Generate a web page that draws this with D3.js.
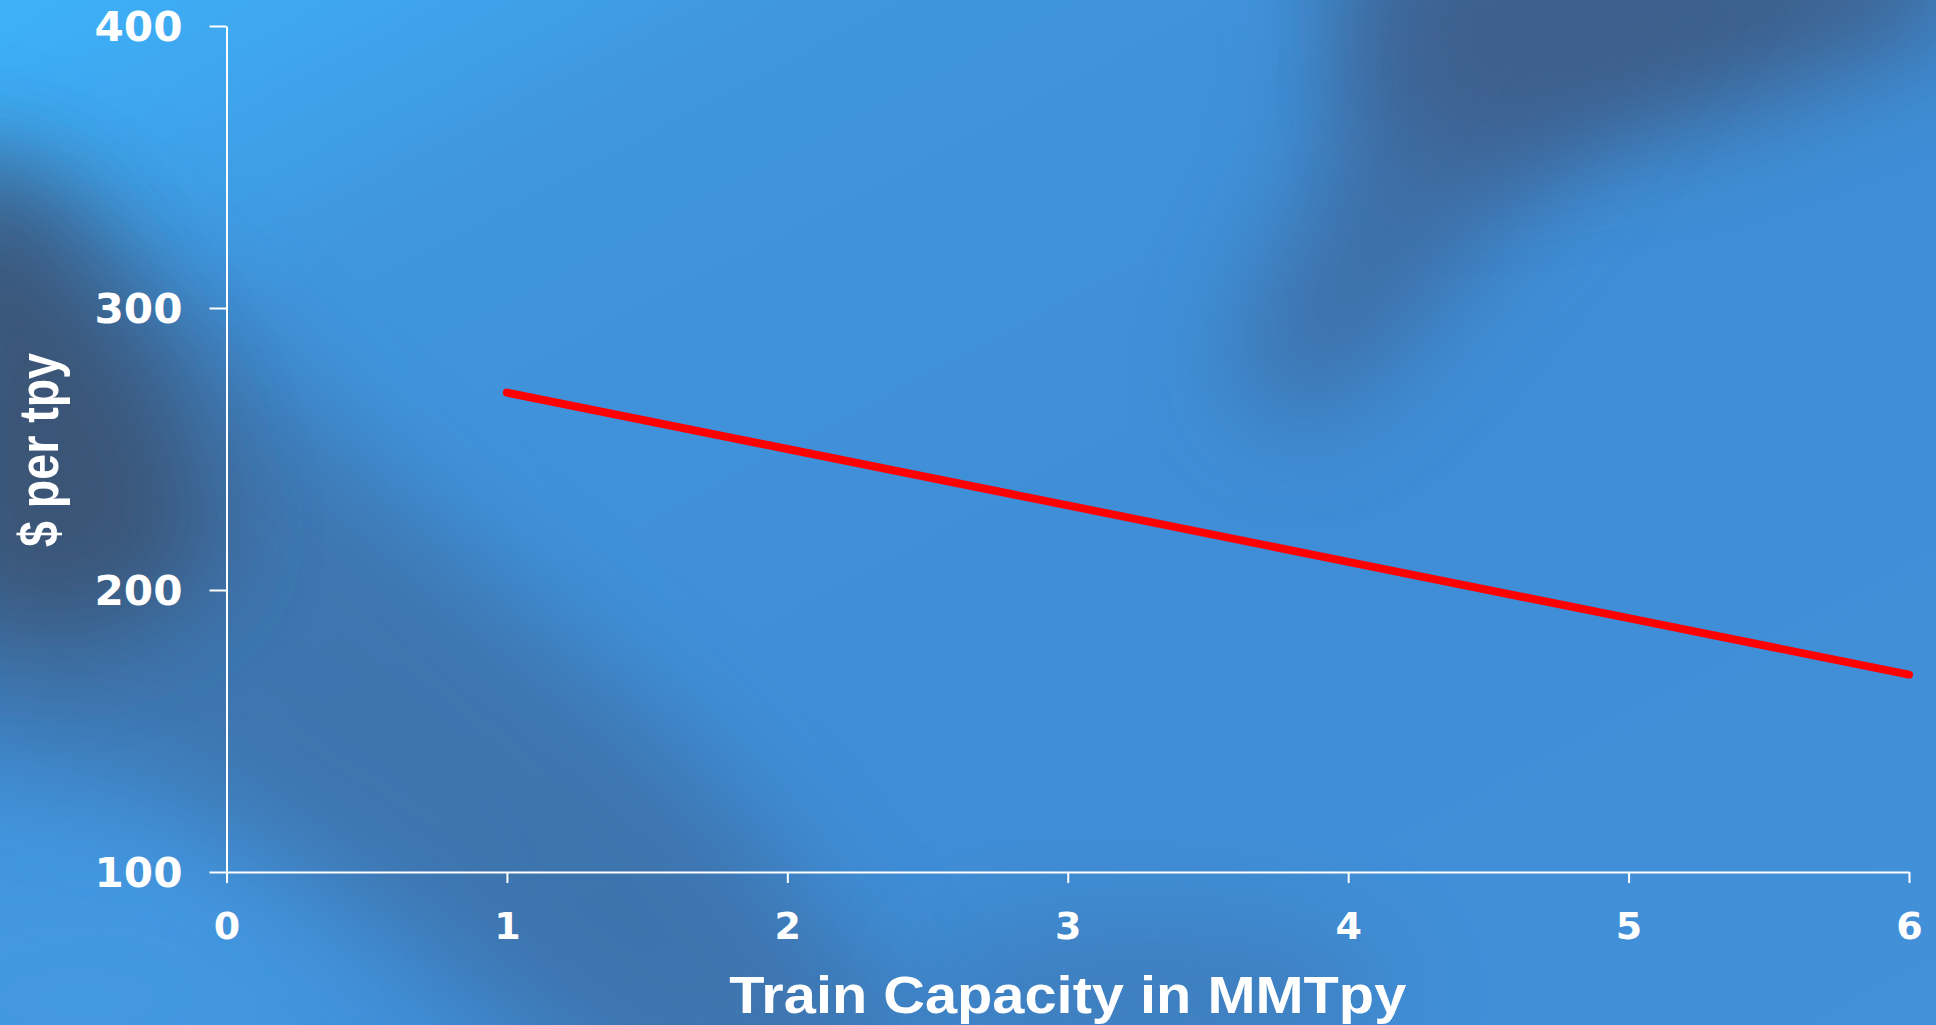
<!DOCTYPE html>
<html>
<head>
<meta charset="utf-8">
<script src="https://cdn.jsdelivr.net/npm/d3@7"></script>
<style>
  html, body { margin: 0; padding: 0; background: #3f8ed8; overflow: hidden; }
  svg { display: block; }
</style>
</head>
<body>
<svg id="chart" width="1936" height="1025"></svg>
<script>
// Unit cost of a liquefaction train versus its capacity
const capacity = [1, 2, 3, 4, 5, 6];           // MMTpy
const costPerTpy = [270, 250, 230, 210, 190, 170]; // $ per tpy
const xTicks = [0, 1, 2, 3, 4, 5, 6];
const yTicks = [100, 200, 300, 400];

const W = 1936, H = 1025;
const svg = d3.select("#chart");
const defs = svg.append("defs");

// ---- backdrop: blue field with soft dark diagonal bands ----
const base = defs.append("linearGradient").attr("id", "baseGrad")
  .attr("x1", 0).attr("y1", 0).attr("x2", 1).attr("y2", 1);
base.append("stop").attr("offset", "0%").attr("stop-color", "#3db2fa");
base.append("stop").attr("offset", "22%").attr("stop-color", "#4095dd");
base.append("stop").attr("offset", "60%").attr("stop-color", "#3f8dd6");
base.append("stop").attr("offset", "100%").attr("stop-color", "#4190d8");

const blur = defs.append("filter").attr("id", "soft")
  .attr("x", "-50%").attr("y", "-50%").attr("width", "200%").attr("height", "200%");
blur.append("feGaussianBlur").attr("stdDeviation", 55);
const blur2 = defs.append("filter").attr("id", "softer")
  .attr("x", "-50%").attr("y", "-50%").attr("width", "200%").attr("height", "200%");
blur2.append("feGaussianBlur").attr("stdDeviation", 90);

const bg = svg.append("g");
bg.append("rect").attr("width", W).attr("height", H).attr("fill", "url(#baseGrad)");

// lighter glow bottom-left
bg.append("ellipse").attr("cx", 80).attr("cy", 1000).attr("rx", 300).attr("ry", 200)
  .attr("fill", "#4aa0ea").attr("opacity", 0.5).attr("filter", "url(#softer)");

// wide left-to-bottom band
bg.append("path")
  .attr("d", "M-80,140 L80,190 L360,460 L680,740 L950,1080 L640,1120 L420,950 L160,790 L-80,740 Z")
  .attr("fill", "#3e679a").attr("opacity", 0.65).attr("filter", "url(#soft)");
// darker core at the left edge
bg.append("path")
  .attr("d", "M-80,170 L30,190 L170,390 L220,560 L100,640 L-80,620 Z")
  .attr("fill", "#3a5273").attr("opacity", 0.95).attr("filter", "url(#soft)");

// top-right band sweeping down-left
bg.append("path")
  .attr("d", "M1380,-80 L1950,-80 L1960,20 L1700,120 L1500,160 L1400,150 Z")
  .attr("fill", "#3c5880").attr("opacity", 0.9).attr("filter", "url(#soft)");
bg.append("path")
  .attr("d", "M1330,-60 L1700,-60 L1560,160 L1380,370 L1290,430 L1230,370 L1330,150 Z")
  .attr("fill", "#3d6190").attr("opacity", 0.7).attr("filter", "url(#soft)");
// faint shadow near the lower centre
bg.append("ellipse").attr("cx", 1150).attr("cy", 1000).attr("rx", 240).attr("ry", 80)
  .attr("fill", "#3d6b9e").attr("opacity", 0.45).attr("filter", "url(#soft)");

// ---- scales ----
const x = d3.scaleLinear().domain([0, 6]).range([226.5, 1909]);
const y = d3.scaleLinear().domain([100, 400]).range([872, 26]);

const white = "#ffffff";

// ---- axes ----
const yAxis = d3.axisLeft(y).tickValues(yTicks).tickSize(17).tickSizeOuter(0).tickPadding(27)
  .tickFormat(d3.format("d"));
const gy = svg.append("g").attr("transform", `translate(${x(0)},0)`).call(yAxis);
gy.select(".domain").attr("stroke", white).attr("stroke-width", 2);
gy.selectAll(".tick line").attr("stroke", white).attr("stroke-width", 2);
gy.selectAll(".tick text")
  .attr("fill", white)
  .attr("font-family", "'DejaVu Sans', sans-serif")
  .attr("font-weight", "bold")
  .attr("font-size", 40)
  .attr("textLength", 88)
  .attr("lengthAdjust", "spacingAndGlyphs")
  .attr("dy", "0.36em");

const xAxis = d3.axisBottom(x).tickValues(xTicks).tickSize(11).tickSizeOuter(0).tickPadding(0)
  .tickFormat(d3.format("d"));
const gx = svg.append("g").attr("transform", `translate(0,${y(100)})`).call(xAxis);
gx.select(".domain").attr("stroke", white).attr("stroke-width", 2);
gx.selectAll(".tick line").attr("stroke", white).attr("stroke-width", 2);
gx.selectAll(".tick text")
  .attr("fill", white)
  .attr("font-family", "'DejaVu Sans', sans-serif")
  .attr("font-weight", "bold")
  .attr("font-size", 38)
  .attr("y", 67)
  .attr("dy", 0);

// ---- axis titles ----
svg.append("text")
  .attr("x", (x(0) + x(6)) / 2).attr("y", 1013)
  .attr("text-anchor", "middle")
  .attr("fill", white)
  .attr("font-family", "'Liberation Sans', Arial, sans-serif")
  .attr("font-weight", "bold")
  .attr("font-size", 51)
  .attr("textLength", 677)
  .attr("lengthAdjust", "spacingAndGlyphs")
  .text("Train Capacity in MMTpy");

svg.append("text")
  .attr("transform", "translate(58,450) rotate(-90)")
  .attr("text-anchor", "middle")
  .attr("fill", white)
  .attr("font-family", "'Liberation Sans', Arial, sans-serif")
  .attr("font-weight", "bold")
  .attr("font-size", 56)
  .attr("textLength", 194)
  .attr("lengthAdjust", "spacingAndGlyphs")
  .text("$ per tpy");

// ---- cost curve ----
const pts = capacity.map((c, i) => [c, costPerTpy[i]]);
svg.append("path")
  .datum(pts)
  .attr("fill", "none")
  .attr("stroke", "#ff0000")
  .attr("stroke-width", 8)
  .attr("stroke-linecap", "round")
  .attr("stroke-linejoin", "round")
  .attr("d", d3.line().x(d => x(d[0])).y(d => y(d[1])));
</script>
</body>
</html>
